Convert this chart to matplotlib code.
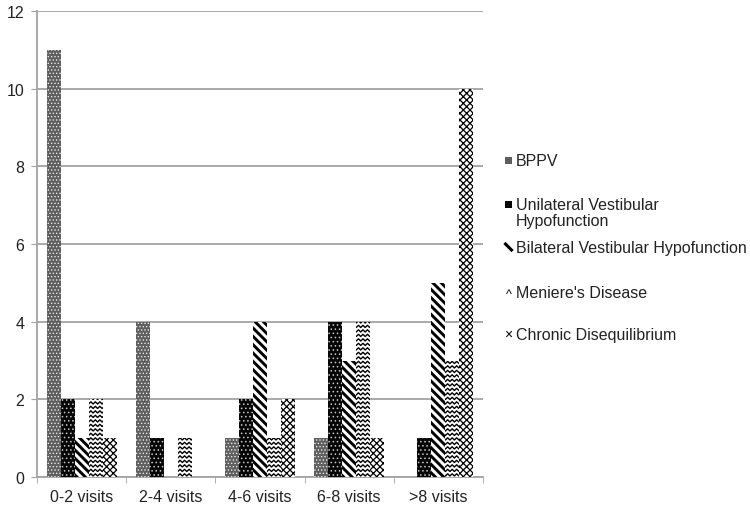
import matplotlib
matplotlib.use('Agg')
import matplotlib.pyplot as plt
from matplotlib.patches import Rectangle
from matplotlib.lines import Line2D
import numpy as np

plt.rcParams['font.family'] = ['Liberation Sans', 'DejaVu Sans']

# data
categories = ['0-2 visits', '2-4 visits', '4-6 visits', '6-8 visits', '>8 visits']
series_names = ['BPPV',
                'Unilateral Vestibular\nHypofunction',
                'Bilateral Vestibular Hypofunction',
                "Meniere's Disease",
                'Chronic Disequilibrium']
bppv = [11, 4, 1, 1, 0]
unilateral = [2, 1, 2, 4, 1]
bilateral = [1, 0, 4, 3, 5]
meniere = [2, 1, 1, 4, 3]
chronic = [1, 0, 2, 1, 10]
series = [bppv, unilateral, bilateral, meniere, chronic]

# (facecolor, hatch, hatch colour, hatch linewidth)
styles = [
    ('#5e5e5e', '.....', '#e8e8e8', 0.6),
    ('#050505', '....', '#c8c8c8', 0.6),
    ('white', '\\\\\\\\', 'black', 2.1),
    ('white', None, 'black', 1.0),   # zigzag drawn by hand below
    ('white', 'xxxxx', 'black', 0.9),
]

W, H = 7.5, 5.1
fig = plt.figure(figsize=(W, H), dpi=100)
ax = fig.add_axes([37 / 750, 1 - 478 / 510, (483 - 37) / 750, (478 - 12) / 510])

x = np.arange(len(categories))
bw = 0.157
ymax = 12
ax.set_xlim(-0.5, len(categories) - 0.5)
ax.set_ylim(0, ymax)

# pixels -> data units
px_x = len(categories) / 446.0
px_y = ymax / 466.0

meniere_bars = None
for i, vals in enumerate(series):
    fc, hatch, hc, hlw = styles[i]
    with plt.rc_context({'hatch.linewidth': hlw, 'hatch.color': hc}):
        bars = ax.bar(x + (i - 2) * bw, vals, bw, color=fc, edgecolor=hc,
                      hatch=hatch, linewidth=0, zorder=3)
    if i == 3:
        meniere_bars = bars

# zigzag pattern for Meniere's Disease, clipped to each bar
for b in meniere_bars:
    x0, y0 = b.get_x(), b.get_y()
    w, h = b.get_width(), b.get_height()
    if h <= 0:
        continue
    period = 4.5 * px_x
    amp = 2.2 * px_y
    xs = np.arange(x0 - period, x0 + w + period, period / 2)
    zig = np.where(np.arange(len(xs)) % 2 == 0, 0, amp)
    for yy in np.arange(y0 + 1 * px_y, y0 + h + 6 * px_y, 4.5 * px_y):
        ln, = ax.plot(xs, yy + zig, color='black', lw=1.0, zorder=4)
        ln.set_clip_path(b)

ax.set_yticks(np.arange(0, ymax + 1, 2))
ax.yaxis.grid(True, color='#a3a3a3', lw=1.3, zorder=0)
ax.set_axisbelow(True)
for s in ['top', 'right']:
    ax.spines[s].set_visible(False)
for s in ['left', 'bottom']:
    ax.spines[s].set_color('#a3a3a3')
    ax.spines[s].set_linewidth(1.3)
ax.tick_params(axis='y', length=4, color='#a3a3a3', labelsize=11.5,
               labelcolor='#222222', pad=5)

ax.set_xticks(x)
ax.set_xticklabels(categories)
ax.set_xticks(np.arange(-0.5, len(categories)), minor=True)
ax.tick_params(axis='x', which='major', length=0, labelsize=11.5,
               labelcolor='#222222', pad=9)
ax.tick_params(axis='x', which='minor', length=4, color='#a3a3a3')

# legend, placed by hand like the original
leg_y = [161, 205, 248, 293, 335]
mx = 508.5 / 750
for i, name in enumerate(series_names):
    yc = 1 - leg_y[i] / 510
    if i in (0, 1):
        fig.add_artist(Rectangle((mx - 3.5 / 750, yc - 3.5 / 510), 7 / 750, 7 / 510,
                                 transform=fig.transFigure,
                                 facecolor=styles[i][0], linewidth=0))
    elif i == 2:
        fig.add_artist(Line2D([mx - 3 / 750, mx + 3 / 750],
                              [yc + 3 / 510, yc - 3 / 510],
                              transform=fig.transFigure, color='black', lw=2.2))
    elif i == 3:
        fig.text(mx, yc - 2 / 510, '^', ha='center', va='center', fontsize=9)
    else:
        fig.text(mx, yc, '×', ha='center', va='center', fontsize=10)
    fig.text(516 / 750, yc + 7 / 510, name, ha='left', va='top',
             fontsize=11.5, color='#222222', linespacing=1.05)

fig.savefig('out.png', dpi=100, facecolor='white')
